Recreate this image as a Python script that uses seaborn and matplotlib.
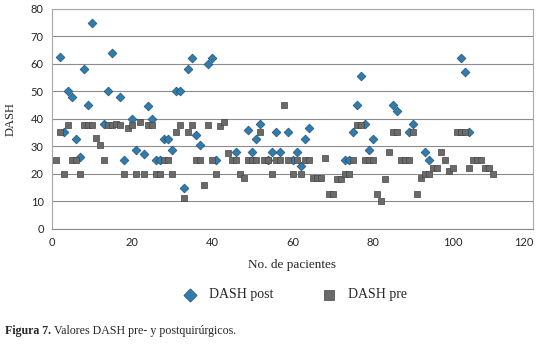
import pandas as pd
import matplotlib.pyplot as plt
import seaborn as sns

# DASH post (diamonds)
post_x = [2, 3, 4, 5, 6, 7, 8, 9, 10, 13, 14, 15, 17, 18, 20, 21, 23, 24, 25, 26,
          27, 28, 29, 30, 31, 32, 33, 34, 35, 36, 37, 39, 40, 41, 46, 49, 50, 51, 52, 54,
          55, 56, 57, 59, 60, 61, 62, 63, 64, 73, 74, 75, 76, 77, 78, 79, 80, 85, 86, 89,
          90, 93, 94, 102, 103, 104]
post_y = [62.5, 35, 50, 48, 32.6, 26, 58, 45, 75, 38, 50, 64, 48, 25, 40, 28.5, 27, 44.5, 40, 25,
          25, 32.6, 32.6, 28.5, 50, 50, 14.8, 58, 62, 34, 30.5, 60, 62, 25, 28, 36, 28, 32.6, 38, 25,
          28, 35, 28, 35, 25, 28, 22.7, 32.6, 36.5, 25, 25, 35, 45, 55.5, 38.2, 28.5, 32.6, 45, 42.7, 35,
          38.2, 28, 25, 62, 57.2, 35]

# DASH pre (squares)
pre_x = list(range(1, 111))
pre_y = [25, 35, 20, 37.6, 25, 25, 20, 37.6, 37.6, 37.6,
         33, 30.3, 25, 37.6, 37.6, 38.2, 37.6, 20, 36.5, 37.6,
         20, 38.7, 20, 37.6, 37.6, 20, 20, 25, 25, 20,
         35, 37.6, 11, 35, 37.6, 25, 25, 16, 37.6, 25,
         20, 37.2, 38.7, 27.5, 25, 25, 20, 18.4, 25, 25,
         25, 35, 25, 25, 20, 25, 25, 45, 25, 20,
         25, 20, 25, 25, 18.4, 18.4, 18.4, 25.7, 12.7, 12.7,
         18.2, 18.2, 20, 20, 25, 37.6, 37.6, 25, 25, 25,
         12.4, 10.2, 18.2, 28, 35, 35, 25, 25, 25, 35,
         12.4, 18.4, 20, 20, 22, 22, 28, 25, 20.8, 22,
         35, 35, 35, 22, 25, 25, 25, 22, 22, 20]

df_post = pd.DataFrame({"paciente": post_x, "DASH": post_y})
df_pre = pd.DataFrame({"paciente": pre_x, "DASH": pre_y})

sns.set_theme(style="white")
serif = ["Liberation Serif", "DejaVu Serif"]
sans = ["Lato", "DejaVu Sans"]
plt.rcParams["font.family"] = serif

fig = plt.figure(figsize=(5.4, 3.44), dpi=100)
ax = fig.add_axes([52 / 540, 1 - 228.5 / 344, 481 / 540, 219.5 / 344])

sns.scatterplot(data=df_post, x="paciente", y="DASH", marker="D", s=20,
                color="#2F7DB0", edgecolor="#24506e", linewidth=0.5,
                label="DASH post", ax=ax, zorder=3)
sns.scatterplot(data=df_pre, x="paciente", y="DASH", marker="s", s=22,
                color="#6a6a6a", edgecolor="#454545", linewidth=0.5,
                label="DASH pre", ax=ax, zorder=4)

ax.set_xlim(0, 120)
ax.set_ylim(0, 80)
ax.set_xticks(range(0, 121, 20))
ax.set_yticks(range(0, 81, 10))
ax.yaxis.grid(True, color="#8c8c8c", linewidth=0.8)
ax.set_axisbelow(True)
for sp in ax.spines.values():
    sp.set_color("#a8a8a8")
    sp.set_linewidth(0.8)
ax.spines["bottom"].set_color("#8c8c8c")
ax.tick_params(axis="both", direction="out", length=4, color="#8c8c8c",
               labelsize=8, pad=2)
for lab in ax.get_xticklabels() + ax.get_yticklabels():
    lab.set_family(sans)
# keep the last tick label inside the figure
ax.get_xticklabels()[-1].set_horizontalalignment("right")
ax.get_xticklabels()[-1].set_x(122)
ax.set_xlabel("No. de pacientes", fontsize=9.5, labelpad=8)
ax.set_ylabel("DASH", fontsize=9, labelpad=10)

ax.legend_.remove()
h, l = ax.get_legend_handles_labels()
fig.legend(h, l, loc="center", bbox_to_anchor=(0.54, 0.143), ncol=2, frameon=False,
           fontsize=10, columnspacing=3.0, handletextpad=0.4, markerscale=1.5)

t1 = fig.text(0.01, 0.028, "Figura 7.", fontsize=8.6, fontweight="bold")
fig.canvas.draw()
bb = t1.get_window_extent()
x2 = bb.x1 / fig.bbox.width + 0.004
fig.text(x2, 0.028, "Valores DASH pre- y postquirúrgicos.", fontsize=8.6)

fig.savefig("out.png", dpi=100)
